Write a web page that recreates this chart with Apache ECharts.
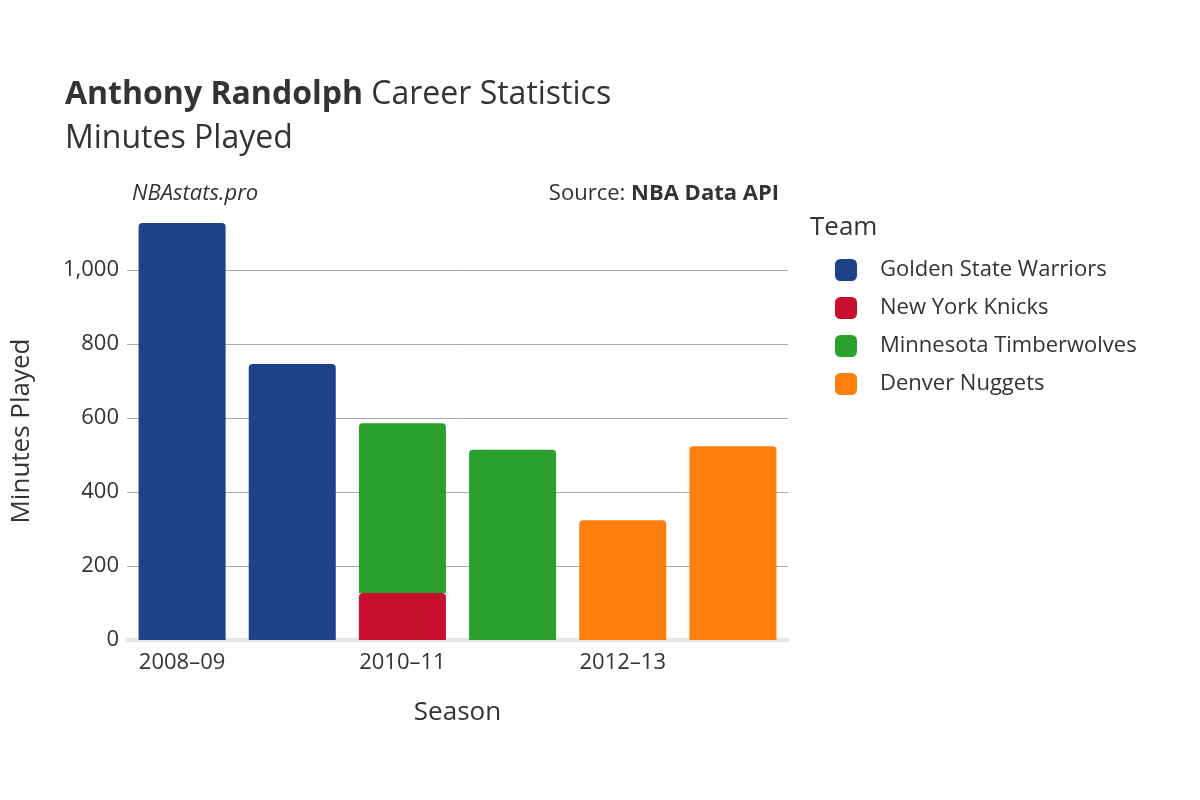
<!DOCTYPE html><html><head><meta charset="utf-8"><script src="https://cdn.jsdelivr.net/npm/echarts@6/dist/echarts.min.js"></script></head><body style="margin:0"><div id="c" style="width:1200px;height:800px"></div><script>
const seasons=['2008–09','2009–10','2010–11','2011–12','2012–13','2013–14'];
const gsw=[1127,746,null,null,null,null];
const nyk=[null,null,127,null,null,null];
const min=[null,null,459,514,null,null];
const den=[null,null,null,null,324,524];
const F='"Open Sans","Noto Sans",sans-serif';
const mk=(name,data,color)=>({name,type:'bar',stack:'s',data,barCategoryGap:'21%',itemStyle:{color,borderRadius:[4,4,0,0],borderColor:'#fff',borderWidth:name==='New York Knicks'?0:0},
});
const chart=echarts.init(document.getElementById('c'));
chart.setOption({
 textStyle:{fontFamily:F},
 title:[{text:'{b|Anthony Randolph} Career Statistics\nMinutes Played',left:60,top:68,textStyle:{rich:{b:{fontWeight:'bold',fontSize:32,color:'#333',fontFamily:F}},fontSize:32,color:'#333',lineHeight:44,fontWeight:'normal'}},
  {text:'NBAstats.pro',left:127,top:178,textStyle:{fontSize:22,fontStyle:'italic',fontWeight:'normal',color:'#333'}},
  {text:'Source: {b|NBA Data API}',right:416,top:178,textStyle:{fontSize:22,fontWeight:'normal',color:'#333',rich:{b:{fontWeight:'bold',fontSize:22,color:'#333',fontFamily:F}}}},
  {text:'Team',left:805,top:210,textStyle:{fontSize:26,fontWeight:'normal',color:'#333'}}],
 legend:{orient:'vertical',left:830,top:254,itemWidth:22,itemHeight:22,itemGap:16,icon:'roundRect',textStyle:{fontSize:22,color:'#333',padding:[0,0,0,18]},data:['Golden State Warriors','New York Knicks','Minnesota Timberwolves','Denver Nuggets']},
 grid:{left:127,top:222,right:412,bottom:160,containLabel:false},
 xAxis:{type:'category',data:seasons,name:'Season',nameLocation:'middle',nameGap:60,nameTextStyle:{fontSize:26,color:'#333'},axisTick:{show:false},axisLine:{lineStyle:{color:'#e6e6e6',width:4}},axisLabel:{fontSize:22,color:'#333',margin:12}},
 yAxis:{type:'value',min:0,max:1130,interval:200,name:'Minutes Played',nameLocation:'middle',nameGap:92,nameTextStyle:{fontSize:26,color:'#333'},axisLabel:{fontSize:22,color:'#333',showMaxLabel:false,margin:8},splitLine:{showMaxLine:false,lineStyle:{color:'#aaa'}}},
 series:[mk('New York Knicks',nyk,'#c8102e'),mk('Golden State Warriors',gsw,'#1d428a'),mk('Minnesota Timberwolves',min,'#2ca02c'),mk('Denver Nuggets',den,'#ff7f0e')]
});
</script></body></html>
